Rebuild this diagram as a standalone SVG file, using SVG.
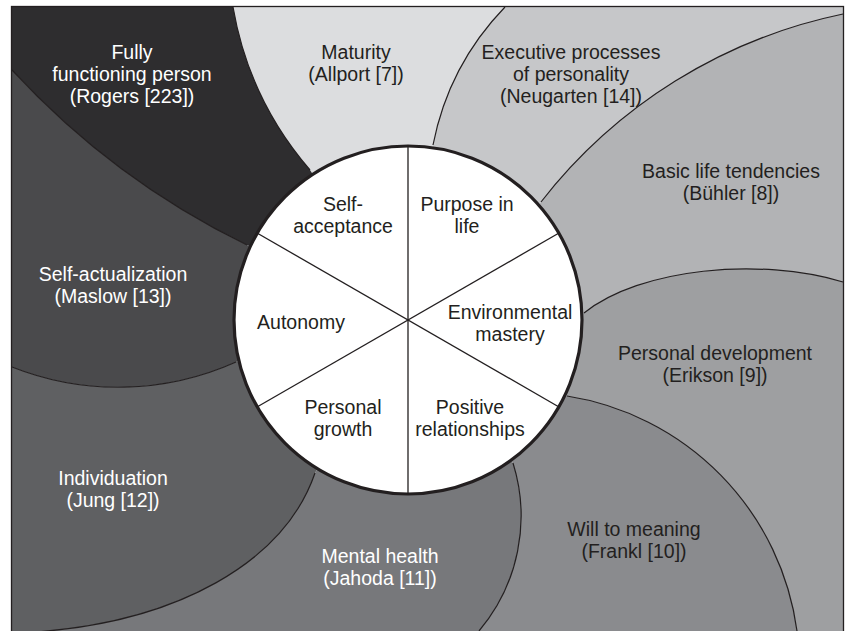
<svg xmlns="http://www.w3.org/2000/svg" width="849" height="631" viewBox="0 0 849 631">
<style>
text{font-family:"Liberation Sans","Open Sans",Arial,sans-serif;font-size:19.5px;text-anchor:middle}
.dk{fill:#231f20}
.wt{fill:#ffffff}
.edge{fill:none;stroke:#231f20;stroke-width:1.2}
.spoke{stroke:#231f20;stroke-width:1.3}
</style>
<rect x="0" y="0" width="849" height="631" fill="#ffffff"/>
<g id="regions">
<g id="maturity">
<path d="M408,320 L310,170 A337,337 0 0,1 233,7 L505,7 A274,274 0 0,0 433,145 Z" fill="#dcdddf"/>
<text class="dk" x="356" y="59">Maturity<tspan x="356" dy="22">(Allport [7])</tspan></text>
</g>
<g id="executive">
<path d="M408,320 L433,145 A274,274 0 0,1 505,7 L843,7 L843,14 A515,515 0 0,0 541,202 Z" fill="#c6c7c9"/>
<text class="dk" x="571" y="59">Executive processes<tspan x="571" dy="22">of personality</tspan><tspan x="571" dy="22">(Neugarten [14])</tspan></text>
</g>
<g id="basic">
<path d="M408,320 L541,202 A515,515 0 0,1 843,14 L843,282 C760,257 640,268 584,313 Z" fill="#b2b3b5"/>
<text class="dk" x="731" y="178">Basic life tendencies<tspan x="731" dy="22">(Bühler [8])</tspan></text>
</g>
<g id="personal-development">
<path d="M408,320 L584,313 C640,268 760,257 843,282 L843,631 L797,631 A275,275 0 0,0 567,396 Z" fill="#9e9fa1"/>
<text class="dk" x="715" y="360">Personal development<tspan x="715" dy="22">(Erikson [9])</tspan></text>
</g>
<g id="will-to-meaning">
<path d="M408,320 L567,396 A275,275 0 0,1 797,631 L479,631 A178,178 0 0,0 513,463 Z" fill="#8a8b8e"/>
<text class="dk" x="634" y="536">Will to meaning<tspan x="634" dy="22">(Frankl [10])</tspan></text>
</g>
<g id="mental-health">
<path d="M408,320 L513,463 A178,178 0 0,1 479,631 L20,633 C180,625 285,560 315,473 Z" fill="#77787b"/>
<text class="wt" x="380" y="563">Mental health<tspan x="380" dy="22">(Jahoda [11])</tspan></text>
</g>
<g id="individuation">
<path d="M408,320 L315,473 C285,560 180,625 20,633 L12,633 L12,367 A288,288 0 0,0 236,362 Z" fill="#5f6062"/>
<text class="wt" x="113" y="485">Individuation<tspan x="113" dy="22">(Jung [12])</tspan></text>
</g>
<g id="self-actualization">
<path d="M408,320 L236,362 A288,288 0 0,1 12,367 L12,70 A791,791 0 0,0 247,245 Z" fill="#4a4a4c"/>
<text class="wt" x="113" y="281">Self-actualization<tspan x="113" dy="22">(Maslow [13])</tspan></text>
</g>
<g id="fully-functioning">
<path d="M408,320 L247,245 A791,791 0 0,1 12,70 L12,7 L233,7 A337,337 0 0,0 310,170 Z" fill="#2e2d2f"/>
<text class="wt" x="132" y="59">Fully<tspan x="132" dy="22">functioning person</tspan><tspan x="132" dy="22">(Rogers [223])</tspan></text>
</g>
</g>
<g id="connectors">
<path class="edge" d="M310,170 A337,337 0 0,1 233,7"/>
<path class="edge" d="M433,145 A274,274 0 0,1 505,7"/>
<path class="edge" d="M541,202 A515,515 0 0,1 843,14"/>
<path class="edge" d="M584,313 C640,268 760,257 843,282"/>
<path class="edge" d="M567,396 A275,275 0 0,1 797,631"/>
<path class="edge" d="M513,463 A178,178 0 0,1 479,631"/>
<path class="edge" d="M315,473 C285,560 180,625 20,633"/>
<path class="edge" d="M236,362 A288,288 0 0,1 12,367"/>
<path class="edge" d="M247,245 A791,791 0 0,1 12,70"/>
</g>
<rect id="frame" x="11.5" y="6.5" width="832" height="632" fill="none" stroke="#231f20" stroke-width="1.3"/>
<g id="dimensions">
<circle cx="408" cy="320" r="174" fill="#ffffff" stroke="#231f20" stroke-width="3.2"/>
<line class="spoke" x1="408" y1="146" x2="408" y2="494"/>
<line class="spoke" x1="257" y1="233" x2="559" y2="407"/>
<line class="spoke" x1="257" y1="407" x2="559" y2="233"/>
<g id="self-acceptance">
<text class="dk" x="343" y="211">Self-<tspan x="343" dy="22">acceptance</tspan></text>
</g>
<g id="purpose-in-life">
<text class="dk" x="467" y="211">Purpose in<tspan x="467" dy="22">life</tspan></text>
</g>
<g id="autonomy">
<text class="dk" x="301" y="329">Autonomy</text>
</g>
<g id="environmental-mastery">
<text class="dk" x="510" y="319">Environmental<tspan x="510" dy="22">mastery</tspan></text>
</g>
<g id="personal-growth">
<text class="dk" x="343" y="414">Personal<tspan x="343" dy="22">growth</tspan></text>
</g>
<g id="positive-relationships">
<text class="dk" x="470" y="414">Positive<tspan x="470" dy="22">relationships</tspan></text>
</g>
</g>
</svg>
